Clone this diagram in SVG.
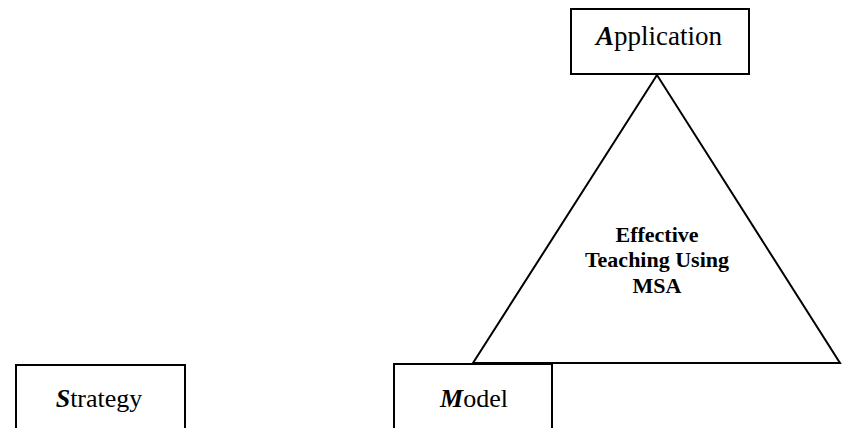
<svg xmlns="http://www.w3.org/2000/svg" width="842" height="428" viewBox="0 0 842 428">
<style>
.box{fill:#fff;stroke:#000;stroke-width:2}
.lbl{font-family:'Liberation Serif',serif;font-size:26px;fill:#000;text-anchor:middle}
.big{font-size:27px}
.ini{font-weight:bold;font-style:italic}
.ctr{font-family:'Liberation Serif',serif;font-size:22px;font-weight:bold;fill:#000;text-anchor:middle}
.tri{fill:#fff;stroke:#000;stroke-width:2}
</style>
<rect width="842" height="428" fill="#fff"/>
<g id="triangle">
<polygon class="tri" points="657,75 473,363 840,363"/>
<text class="ctr" x="657" y="242">Effective</text>
<text class="ctr" x="657" y="267">Teaching Using</text>
<text class="ctr" x="657" y="293">MSA</text>
</g>
<g id="application">
<rect class="box" x="571" y="9" width="178" height="65"/>
<text class="lbl big" x="659" y="45"><tspan class="ini">A</tspan>pplication</text>
</g>
<g id="model">
<rect class="box" x="394" y="364" width="158" height="80"/>
<text class="lbl" x="474" y="407"><tspan class="ini">M</tspan>odel</text>
</g>
<g id="strategy">
<rect class="box" x="16" y="365" width="169" height="80"/>
<text class="lbl" x="99" y="407"><tspan class="ini">S</tspan>trategy</text>
</g>
<g id="connectors"></g>
</svg>
